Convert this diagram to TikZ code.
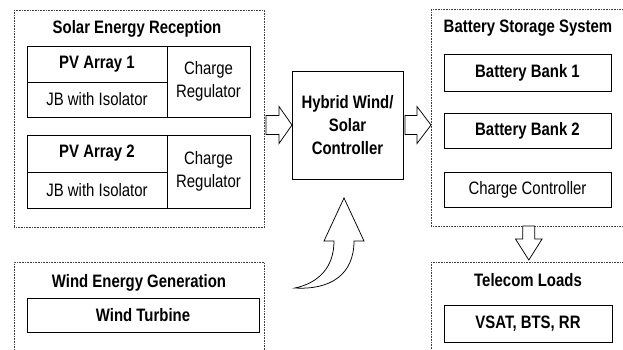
\documentclass[tikz,border=0pt]{standalone}
\usepackage{fontspec}
\setmainfont{Liberation Sans}[FakeStretch=0.83]
\usetikzlibrary{positioning, calc}

\begin{document}
\begin{tikzpicture}[x=1pt, y=-1pt, font=\fontsize{18}{23}\selectfont,
  group/.style={draw=black!75, densely dotted, line width=0.6pt, inner sep=0pt, anchor=north west},
  cell/.style={draw, line width=0.9pt, inner sep=0pt, outer sep=0pt, align=center, anchor=north west},
  bold/.style={font=\fontsize{18}{23}\selectfont\bfseries},
  title/.style={bold, anchor=base},
  fat/.style={draw, fill=white, line width=0.75pt, line join=miter}]

  \useasboundingbox (0,0) rectangle (623,349);
  \clip (0,0) rectangle (623,349);

  % solar side
  \node[group, minimum width=250pt, minimum height=217pt] (solar) at (14,10) {};
  \node[title] (solart) at (137,33) {Solar Energy Reception};
  \node[cell, bold, minimum width=140pt, minimum height=36pt] (pv1) at (27,46) {PV Array 1};
  \node[cell, minimum width=140pt, minimum height=35pt, below=0pt of pv1] (jb1) {JB with Isolator};
  \node[cell, minimum width=83pt, minimum height=71pt] (reg1) at (pv1.north east) {Charge\\Regulator};
  \node[cell, bold, minimum width=140pt, minimum height=37pt] (pv2) at (27,135) {PV Array 2};
  \node[cell, minimum width=140pt, minimum height=36pt, below=0pt of pv2] (jb2) {JB with Isolator};
  \node[cell, minimum width=83pt, minimum height=73pt] (reg2) at (pv2.north east) {Charge\\Regulator};

  % wind side
  \node[group, minimum width=250pt, minimum height=92pt] (wind) at (14,262) {};
  \node[title] (windt) at (139,287) {Wind Energy Generation};
  \node[cell, bold, minimum width=232pt, minimum height=34pt] (turbine) at (27,298) {Wind Turbine};

  % controller
  \node[cell, bold, minimum width=111pt, minimum height=108pt] (hybrid) at (292,71) {Hybrid Wind/\\Solar\\Controller};

  % batteries
  \node[group, minimum width=195pt, minimum height=217pt] (battstore) at (431,9) {};
  \node[title] (battt) at (528,32) {Battery Storage System};
  \node[cell, bold, minimum width=167pt, minimum height=37pt] (bank1) at (444,54) {Battery Bank 1};
  \node[cell, bold, minimum width=167pt, minimum height=35pt] (bank2) at (444,113) {Battery Bank 2};
  \node[cell, minimum width=167pt, minimum height=35pt] (chgctl) at (444,172) {Charge Controller};

  % loads
  \node[group, minimum width=195pt, minimum height=92pt] (telecom) at (431,262) {};
  \node[title] (telt) at (528,286) {Telecom Loads};
  \node[cell, bold, minimum width=168pt, minimum height=37pt] (vsat) at (444,305) {VSAT, BTS, RR};

  % block arrows
  \draw[fat] (hybrid.west) -- ++(-13,-18.5) -- ++(0,9) -- ++(-13,0) -- ++(0,19)
    -- ++(13,0) -- ++(0,9) -- cycle;
  \draw[fat] (battstore.west |- hybrid.east) -- ++(-14,-18.5) -- ++(0,9) -- ++(-12,0)
    -- ++(0,19) -- ++(12,0) -- ++(0,9) -- cycle;
  \draw[fat] ($(telecom.north)+(0,-2)$) -- ++(-13.3,-21) -- ++(7.3,0) -- ++(0,-13)
    -- ++(12,0) -- ++(0,13) -- ++(7.3,0) -- cycle;

  % curved arrow from wind
  \coordinate (wtail) at (295,288);
  \draw[fat] (wtail) .. controls (318,283) and (334,268) .. (334,241) -- (324,241)
    -- ($(hybrid.south)+(-3.5,19)$) -- (364,241) -- (354,241)
    .. controls (354,275) and (330,290) .. (wtail) -- cycle;
\end{tikzpicture}
\end{document}
